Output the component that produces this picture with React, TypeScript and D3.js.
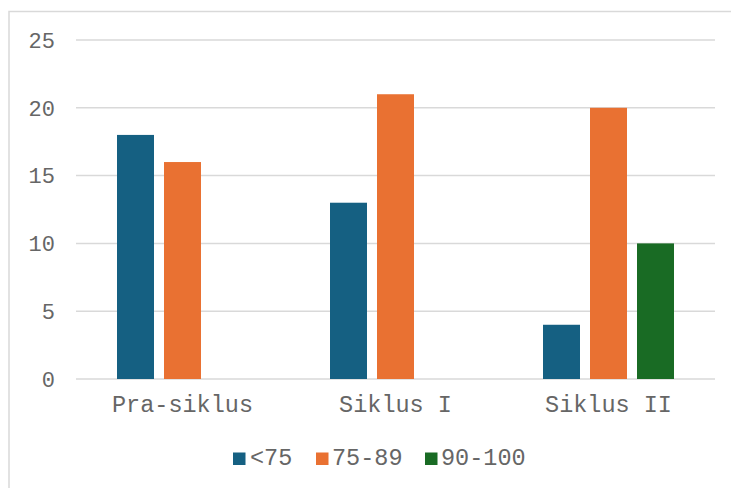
import React from "react";
import * as d3 from "d3";

const categories = ["Pra-siklus", "Siklus I", "Siklus II"];
const seriesNames = ["<75", "75-89", "90-100"];
const seriesLow = [18, 13, 4];
const seriesMid = [16, 21, 20];
const seriesHigh = [0, 0, 10];
const yTicks = [0, 5, 10, 15, 20, 25];
const colors = ["#156082", "#E97132", "#196B24"];

const W = 731;
const H = 488;
const FONT = "'Liberation Mono', 'Courier New', monospace";
const TEXT = "#666666";

export default function App() {
  const values = [seriesLow, seriesMid, seriesHigh];
  const x0 = d3.scaleBand<string>().domain(categories).range([76, 715]).padding(0);
  const groupPad = 41;
  const x1 = d3
    .scaleBand<string>()
    .domain(seriesNames)
    .range([0, x0.bandwidth() - 2 * groupPad])
    .paddingInner(10 / 47)
    .paddingOuter(0);
  const y = d3.scaleLinear().domain([0, 25]).range([379, 40]);

  const legendItems = [
    { name: seriesNames[0], sx: 233, tx: 250 },
    { name: seriesNames[1], sx: 316, tx: 332 },
    { name: seriesNames[2], sx: 425, tx: 441 },
  ];

  return (
    <svg
      width={W}
      height={H}
      style={{ position: "absolute", left: 0, top: 0, background: "#fff" }}
    >
      <rect x={9} y={11.5} width={730} height={490} fill="#fff" stroke="#d9d9d9" strokeWidth={1.5} />
      {yTicks.map((t) => (
        <g key={t}>
          <line x1={76} x2={715} y1={y(t)} y2={y(t)} stroke="#d9d9d9" strokeWidth={1.5} />
          <text
            x={55}
            y={y(t)}
            dy="0.35em"
            textAnchor="end"
            fontFamily={FONT}
            fontSize={22}
            fill={TEXT}
          >
            {t}
          </text>
        </g>
      ))}
      {categories.map((c, ci) => (
        <g key={c}>
          {seriesNames.map((s, si) => {
            const v = values[si][ci];
            if (!v) return null;
            return (
              <rect
                key={s}
                x={(x0(c) as number) + groupPad + (x1(s) as number)}
                y={y(v)}
                width={x1.bandwidth()}
                height={y(0) - y(v)}
                fill={colors[si]}
              />
            );
          })}
          <text
            x={(x0(c) as number) + x0.bandwidth() / 2}
            y={412}
            textAnchor="middle"
            fontFamily={FONT}
            fontSize={23.5}
            fill={TEXT}
          >
            {c}
          </text>
        </g>
      ))}
      {legendItems.map((it, i) => (
        <g key={it.name}>
          <rect x={it.sx} y={452.5} width={12.5} height={12.5} fill={colors[i]} />
          <text x={it.tx} y={465} fontFamily={FONT} fontSize={23.5} fill={TEXT}>
            {it.name}
          </text>
        </g>
      ))}
    </svg>
  );
}
